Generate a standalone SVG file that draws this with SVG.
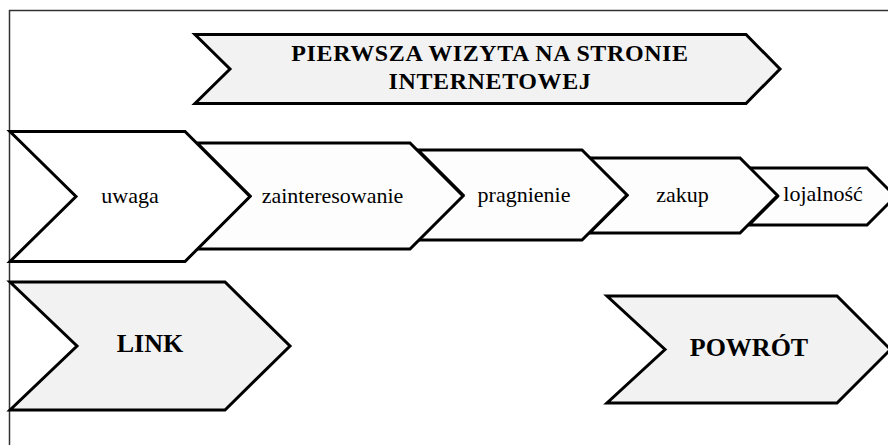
<svg xmlns="http://www.w3.org/2000/svg" width="888" height="445" viewBox="0 0 888 445">
<style>
.ch{stroke:#000;stroke-width:3;stroke-linejoin:miter}
.w{fill:#fdfdfd}
.g{fill:#f2f2f2}
.t{font-family:"Liberation Serif","Times New Roman",serif;font-size:22px;fill:#000;text-anchor:middle}
.b{font-family:"Liberation Serif","Times New Roman",serif;font-size:26px;font-weight:bold;fill:#000;text-anchor:middle}
.h{font-family:"Liberation Serif","Times New Roman",serif;font-size:24px;font-weight:bold;fill:#000;text-anchor:middle;letter-spacing:0.6px}
</style>
<rect x="0" y="0" width="888" height="445" fill="#fff"/>
<g id="frame" stroke="#333" stroke-width="1.5" fill="none">
<line x1="9" y1="10.5" x2="888" y2="10.5"/>
<line x1="9.5" y1="10" x2="9.5" y2="445"/>
</g>
<g id="title">
<polygon class="ch g" points="195,34.5 746,34.5 780,69 746,103.5 195,103.5 230,69"/>
<text class="h" x="490" y="61">PIERWSZA WIZYTA NA STRONIE</text>
<text class="h" x="490" y="89">INTERNETOWEJ</text>
</g>
<g id="lojalnosc">
<polygon class="ch w" points="749,168 867,168 895.5,196.5 867,225 749,225 777.5,196.5"/>
<text class="t" x="823" y="201">lojalność</text>
</g>
<g id="zakup">
<polygon class="ch w" points="589.5,158 740,158 777.5,195.5 740,233 589.5,233 627,195.5"/>
<text class="t" x="682.5" y="202">zakup</text>
</g>
<g id="pragnienie">
<polygon class="ch w" points="418,150 582,150 627,195 582,240 418,240 463,195"/>
<text class="t" x="524" y="202">pragnienie</text>
</g>
<g id="zainteresowanie">
<polygon class="ch w" points="197,143 410,143 463,196 410,249 197,249 250,196"/>
<text class="t" x="332.5" y="203">zainteresowanie</text>
</g>
<g id="uwaga">
<polygon class="ch" fill="#fff" points="10,131.5 185,131.5 250,196.5 185,261.5 10,261.5 76,196.5"/>
<text class="t" x="130" y="203">uwaga</text>
</g>
<g id="link">
<polygon class="ch g" points="10,282 225,282 290,346 225,410 10,410 77,346"/>
<text class="b" x="150" y="352">LINK</text>
</g>
<g id="powrot">
<polygon class="ch g" points="607,296 837,296 890.5,349.5 837,403 607,403 665,349.5"/>
<text class="b" x="749" y="356">POWRÓT</text>
</g>
<g id="connectors"/>
</svg>
